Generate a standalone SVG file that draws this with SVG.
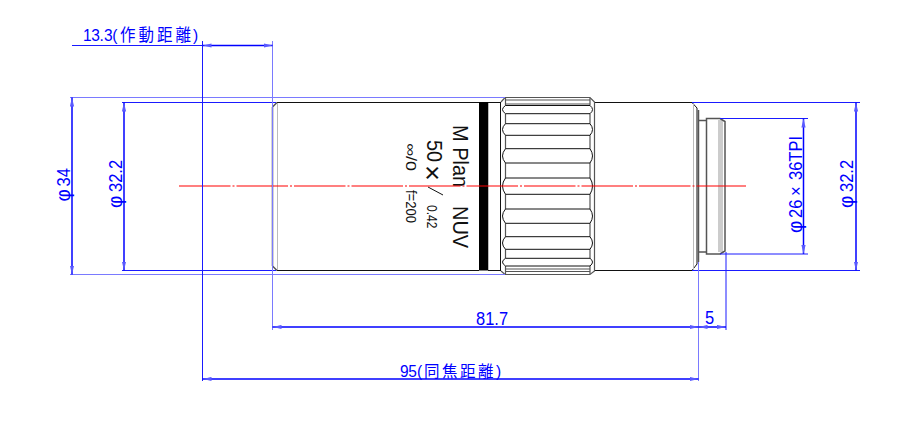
<svg xmlns="http://www.w3.org/2000/svg" width="900" height="421" viewBox="0 0 900 421">
<defs>
<marker id="arr" markerUnits="userSpaceOnUse" viewBox="0 0 9 5" refX="9" refY="2.5" markerWidth="9" markerHeight="5" orient="auto-start-reverse"><path d="M0 .4L9 2.5L0 4.600Z" fill="#5a5aff"/></marker>
</defs>
<style>
.ext{stroke:#1a1aff;stroke-width:1;fill:none}
.ext2{stroke:#7a7aff;stroke-width:1;fill:none}
.dim{stroke:#0000ff;stroke-width:1.500;fill:none;marker-start:url(#arr);marker-end:url(#arr)}
.b{stroke:#111;stroke-width:1;fill:none}
.d{stroke:#555;stroke-width:1.500;fill:none}
.g{stroke:#bbb;stroke-width:1;fill:none}
.k{stroke:#555;stroke-width:1.200;fill:none}
.t{font-family:"Liberation Sans","Noto Sans CJK JP",sans-serif;fill:#0000ff;font-size:16.500px}
.j{font-family:"Liberation Sans","Noto Sans CJK JP",sans-serif;fill:#0000ff;font-size:15.500px}
.m{font-family:"Liberation Sans",sans-serif;fill:#111}
</style>
<g id="lens">
<path class="b" d="M277 102.500H479M488 102.500H501M594 102.500H692L697 108V264L692 270.500H594M501 270.500H488M479 270.500H277"/>
<path class="d" d="M272.500 107V266M272.500 107L277 102.500M272.500 266L277 270.500"/>
<path class="g" d="M277.500 103V270M693.500 104V269"/>
<rect x="479" y="102" width="9" height="168.500" fill="#000"/>
<path class="g" d="M488.500 103V270"/>
<path class="b" d="M500.500 102V271"/>
<path class="k" d="M501 102L505 97.500H590L594.500 102V271L590 274.500H505L501 271"/>
<path class="k" d="M505.500 98V105.500M505.500 113.700V123.700M505.500 135.300V148.700M505.500 163V178M505.500 194.300V209M505.500 223.300V236.700M505.500 249.300V258.300M505.500 266V274M590 98V105.500M590 113.700V123.700M590 135.300V148.700M590 163V178M590 194.300V209M590 223.300V236.700M590 249.300V258.300M590 266V274"/>
<path class="k" d="M505 100H590M505 104H590M505 269H590M505 271.500H590"/>
<path class="b" d="M505.500 105.500Q499.500 109.500 505.500 113.700H590Q595 109.500 590 105.500ZM505.500 123.700Q499.500 129.500 505.500 135.300H590Q595 129.500 590 123.700ZM505.500 148.700Q499.500 156 505.500 163H590Q595 156 590 148.700ZM505.500 178Q499.500 186 505.500 194.300H590Q595 186 590 178ZM505.500 209Q499.500 216 505.500 223.300H590Q595 216 590 209ZM505.500 236.700Q499.500 243 505.500 249.300H590Q595 243 590 236.700ZM505.500 258.300Q499.500 262 505.500 266H590Q595 262 590 258.300Z"/>
<path class="d" d="M698.500 110V262"/>
<path class="d" d="M698.500 120.500H706.500M698.500 252H706.500"/>
<rect x="718" y="120" width="5" height="132" fill="#ccc"/>
<path class="d" d="M706.500 120V252M706.500 118.500H720L725 121.500V251L720 254H706.500Z"/>
</g>
<g id="marking" class="m">
<text transform="translate(453,125) rotate(90) scale(1,1.120)" font-size="20">M Plan</text>
<text transform="translate(453,206) rotate(90) scale(1,1.120)" font-size="20">NUV</text>
<text transform="translate(427,140) rotate(90) scale(1,1.120)" font-size="20">50</text>
<text transform="translate(423,165) rotate(90)" font-size="27">×</text>
<path d="M428 187L443 195" stroke="#111" stroke-width="1" fill="none"/>
<text transform="translate(427,205) rotate(90) scale(1,1.150)" font-size="12">0.42</text>
<text transform="translate(406,143) rotate(90)" font-size="14" textLength="28" lengthAdjust="spacingAndGlyphs">∞/0</text>
<text transform="translate(406,190) rotate(90) scale(1,1.100)" font-size="13">f=200</text>
</g>
<path id="axis" d="M179 186H746" stroke="#ff0000" stroke-width="1.200" stroke-dasharray="51.500 2 2 2" fill="none"/>
<g id="connectors">
<path class="ext2" d="M70 97.500H505M70 274.500H505"/>
<path class="ext" d="M122 102.500H276M122 270.500H276M692 102.500H860M692 270.500H860M720 118.500H808M720 254H808"/>
<path class="ext" d="M202.500 41V381M726 252V330"/>
<path class="ext2" d="M272.500 41V330M698.500 262V381"/>
<path class="dim" d="M72 97.500V274.500"/>
<path class="dim" d="M124 102.500V270.500"/>
<path class="dim" d="M856 102.500V270.500"/>
<path class="dim" d="M803.500 118.500V254"/>
<path class="dim" d="M202.500 45.500H272.500"/>
<path class="ext" d="M72 45.500H202.500"/>
<path class="dim" d="M272.500 327H698.500"/>
<path class="dim" d="M698.500 327H726"/>
<path class="dim" d="M202.500 379H698.500"/>
</g>
<g id="labels">
<text class="j" transform="translate(0,41) scale(1,1.100)" x="83 91.300 99.600 103.900 112.200 120 138.500 157 175.500 193">13.3(作動距離)</text>
<text class="t" transform="translate(476,324.500) scale(1,1.120)" font-size="16">81.7</text>
<text class="t" transform="translate(705,323.500) scale(1,1.120)">5</text>
<text class="j" transform="translate(0,376.500) scale(1,1.050)" x="400 408.300 417 424 442 460 478 496">95(同焦距離)</text>
<text class="t" transform="translate(70,201.500) rotate(-90) scale(1,1.080)"><tspan font-size="19">φ</tspan><tspan x="15">34</tspan></text>
<text class="t" transform="translate(122,208) rotate(-90) scale(1,1.080)"><tspan font-size="19">φ</tspan><tspan x="16">32.2</tspan></text>
<text class="t" transform="translate(853,208) rotate(-90) scale(1,1.080)"><tspan font-size="19">φ</tspan><tspan x="16">32.2</tspan></text>
<text class="t" transform="translate(802,233) rotate(-90) scale(1,1.080)"><tspan font-size="19">φ</tspan><tspan x="15">26</tspan><tspan x="37">×</tspan><tspan x="53">36TPI</tspan></text>
</g>
</svg>
